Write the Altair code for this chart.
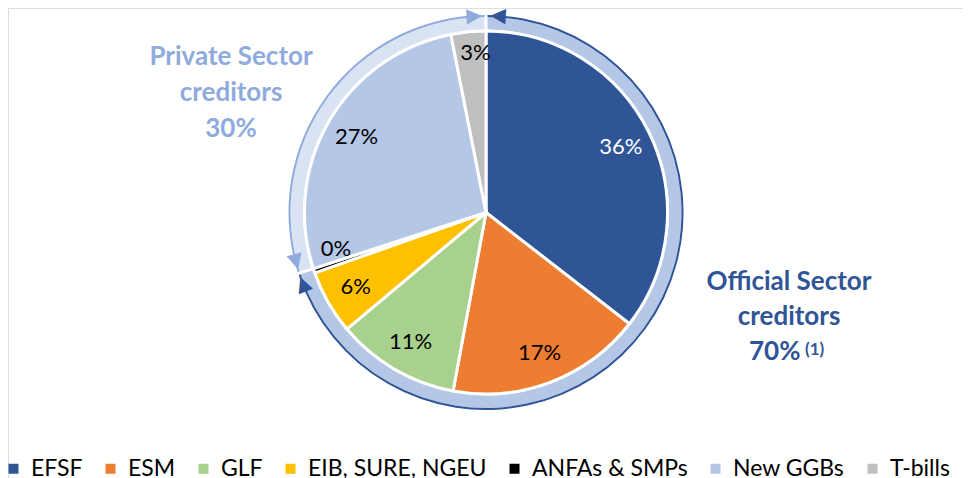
import math
import altair as alt
import pandas as pd

# ---- data ----
categories = ["EFSF", "ESM", "GLF", "EIB, SURE, NGEU", "ANFAs & SMPs", "New GGBs", "T-bills"]
shares = [35.5, 17.4, 11.0, 5.7, 0.4, 26.9, 3.1]
colors = ["#2F5597", "#ED7D31", "#A9D18E", "#FFC000", "#000000", "#B4C7E7", "#BFBFBF"]

sectors = ["Official", "Private"]
sector_shares = [70, 30]
sector_fill = ["#B4C7E7", "#DAE3F3"]
sector_line = ["#2F5597", "#8FAADC"]

private_title = ["Private Sector", "creditors", "30%"]
official_title = ["Official Sector", "creditors"]
official_pct = "70%"
official_note = "(1)"

FONT = "Lato"
CX, CY = 478, 204.5

# ---- tables ----
cum = pd.Series(shares).cumsum()
df = pd.DataFrame({
    "cat": categories,
    "share": shares,
    "idx": list(range(len(categories))),
    "mid": (cum - pd.Series(shares) / 2).tolist(),
    "label": [f"{round(v)}%" for v in shares],
})

df_sec = pd.DataFrame({
    "sector": sectors,
    "share": sector_shares,
    "idx": [0, 1],
    "fill": sector_fill,
    "line": sector_line,
})

# arrowheads at both ends of each sector arc
arrow_rows = []
start = 0
off = 0.9
for s, sh, ln in zip(sectors, sector_shares, sector_line):
    end = start + sh
    p1 = start + off   # pointing counter-clockwise
    p2 = end - off     # pointing clockwise
    arrow_rows.append({"pos": p1, "rot": (p1 * 3.6 + 270) % 360, "line": ln})
    arrow_rows.append({"pos": p2, "rot": (p2 * 3.6 + 90) % 360, "line": ln})
    start = end
df_arr = pd.DataFrame(arrow_rows)

TWO_PI = 2 * math.pi
theta_fixed = dict(stack=None, scale=alt.Scale(domain=[0, 100], range=[0, TWO_PI]))

# ---- layers ----
pie = alt.Chart(df).mark_arc(outerRadius=181.5, stroke="white", strokeWidth=3).encode(
    theta=alt.Theta("share:Q", stack=True),
    order=alt.Order("idx:Q"),
    color=alt.Color(
        "cat:N",
        scale=alt.Scale(domain=categories, range=colors),
        legend=alt.Legend(
            title=None, orient="none", legendX=-6, legendY=449, direction="horizontal",
            symbolType="square", symbolSize=100, symbolStrokeWidth=0,
            labelFont=FONT, labelFontSize=23, labelColor="#000000",
            labelOffset=6, columnPadding=16, labelLimit=400, padding=0,
        ),
    ),
    x=alt.value(CX), y=alt.value(CY),
)

ring = alt.Chart(df_sec).mark_arc(radius=195.5, radius2=183, padAngle=0.011).encode(
    theta=alt.Theta("share:Q", stack=True),
    order=alt.Order("idx:Q"),
    fill=alt.Fill("fill:N", scale=None),
    x=alt.value(CX), y=alt.value(CY),
)

ring_line = alt.Chart(df_sec).mark_arc(radius=197.5, radius2=195.5, padAngle=0.011).encode(
    theta=alt.Theta("share:Q", stack=True),
    order=alt.Order("idx:Q"),
    fill=alt.Fill("line:N", scale=None),
    x=alt.value(CX), y=alt.value(CY),
)

arrows = alt.Chart(df_arr).mark_text(
    text="▲", font="DejaVu Sans", fontSize=20, align="center", baseline="middle", radius=196.5
).encode(
    theta=alt.Theta("pos:Q", **theta_fixed),
    angle=alt.Angle("rot:Q", scale=None),
    color=alt.Color("line:N", scale=None),
    x=alt.value(CX), y=alt.value(CY),
)

label_color = alt.condition(alt.datum.cat == "EFSF", alt.value("white"), alt.value("black"))

labels_main = alt.Chart(df).transform_filter(
    "datum.cat != 'ANFAs & SMPs' && datum.cat != 'T-bills'"
).mark_text(font=FONT, fontSize=22, align="center", baseline="middle", radius=150).encode(
    theta=alt.Theta("mid:Q", **theta_fixed),
    text="label:N",
    color=label_color,
    x=alt.value(CX), y=alt.value(CY),
)

labels_tb = alt.Chart(df).transform_filter("datum.cat == 'T-bills'").mark_text(
    font=FONT, fontSize=22, align="center", baseline="middle", radius=160, dx=5
).encode(
    theta=alt.Theta("mid:Q", **theta_fixed),
    text="label:N",
    color=alt.value("black"),
    x=alt.value(CX), y=alt.value(CY),
)

labels_anfa = alt.Chart(df).transform_filter("datum.cat == 'ANFAs & SMPs'").mark_text(
    font=FONT, fontSize=22, align="center", baseline="middle", radius=150, dx=-8, dy=-12
).encode(
    theta=alt.Theta("mid:Q", **theta_fixed),
    text="label:N",
    color=alt.value("black"),
    x=alt.value(CX), y=alt.value(CY),
)

anno_df = pd.DataFrame({"k": [0]})

priv_txt = alt.Chart(anno_df).mark_text(
    font=FONT, fontSize=26, fontWeight="bold", color="#8FAADC", align="center",
    baseline="alphabetic", lineHeight=36, text=private_title
).encode(x=alt.value(223), y=alt.value(57))

off_txt = alt.Chart(anno_df).mark_text(
    font=FONT, fontSize=26, fontWeight="bold", color="#2F5597", align="center",
    baseline="alphabetic", lineHeight=35, text=official_title
).encode(x=alt.value(781), y=alt.value(282))

off_pct = alt.Chart(anno_df).mark_text(
    font=FONT, fontSize=26, fontWeight="bold", color="#2F5597", align="left",
    baseline="alphabetic", text=official_pct
).encode(x=alt.value(741), y=alt.value(352))

off_note = alt.Chart(anno_df).mark_text(
    font=FONT, fontSize=17, fontWeight="bold", color="#2F5597", align="left",
    baseline="alphabetic", text=official_note
).encode(x=alt.value(797), y=alt.value(347))

chart = alt.layer(
    ring, ring_line, pie, arrows, labels_main, labels_tb, labels_anfa,
    priv_txt, off_txt, off_pct, off_note,
).resolve_scale(
    theta="independent", color="independent"
).properties(
    width=955, height=470, autosize="none", padding=0
).configure_view(stroke=None).configure(font=FONT)

chart.save("out.html", embed_options={"renderer": "svg", "actions": False})
